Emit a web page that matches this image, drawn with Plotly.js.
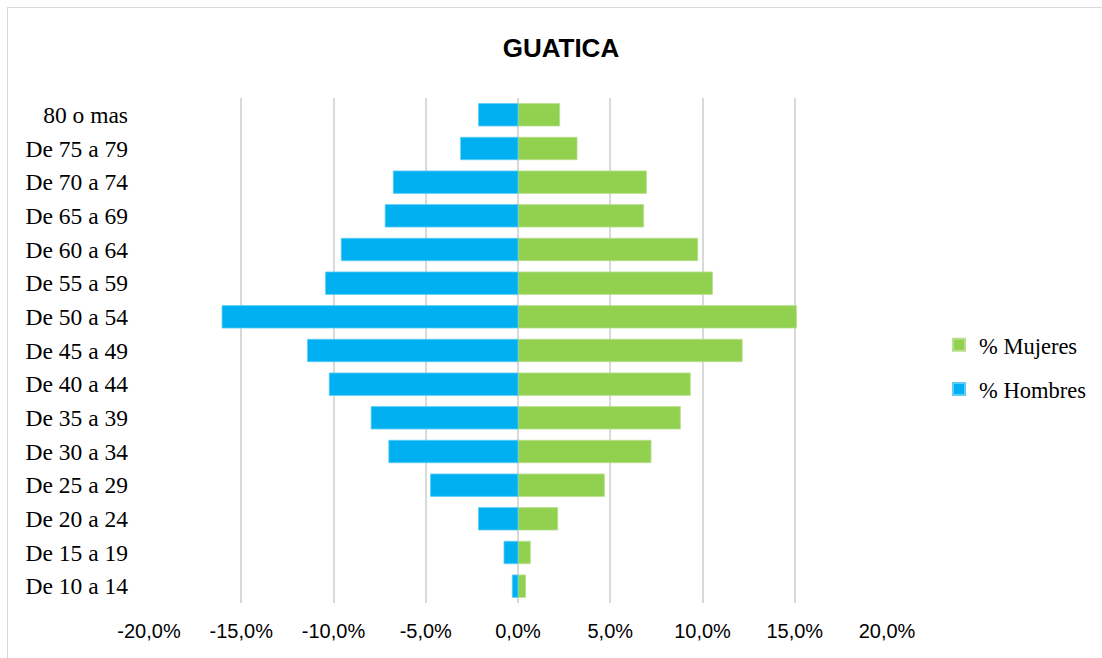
<!DOCTYPE html>
<html>
<head>
<meta charset="utf-8">
<script src="https://cdn.plot.ly/plotly-3.0.1.min.js"></script>
<style>
html,body{margin:0;padding:0;background:#fff;overflow:hidden;}
#wrap{position:relative;width:1102px;height:658px;}
#chart{position:absolute;left:0;top:0;width:1102px;height:658px;}
#frame{position:absolute;left:7px;top:7px;width:1200px;height:700px;border:1px solid #d9d9d9;pointer-events:none;}
</style>
</head>
<body>
<div id="wrap"><div id="chart"></div><div id="frame"></div></div>
<script>
var categories = ["De 10 a 14","De 15 a 19","De 20 a 24","De 25 a 29","De 30 a 34","De 35 a 39","De 40 a 44","De 45 a 49","De 50 a 54","De 55 a 59","De 60 a 64","De 65 a 69","De 70 a 74","De 75 a 79","80 o mas"];
var hombres = [-0.31,-0.76,-2.14,-4.74,-7.0,-7.96,-10.23,-11.41,-16.04,-10.43,-9.58,-7.2,-6.76,-3.11,-2.14];
var mujeres = [0.41,0.67,2.15,4.68,7.21,8.80,9.34,12.15,15.09,10.54,9.74,6.81,6.96,3.20,2.26];
var tickVals = [-20,-15,-10,-5,0,5,10,15,20];
var tickLabels = ["-20,0%","-15,0%","-10,0%","-5,0%","0,0%","5,0%","10,0%","15,0%","20,0%"];

var traces = [
  {type:'bar', orientation:'h', name:'% Mujeres', legendgroup:'m', y:categories, x:mujeres,
   marker:{color:'#92D050', line:{color:'#b8e08c', width:0.8}}, hoverinfo:'x+y'},
  {type:'bar', orientation:'h', name:'% Hombres', legendgroup:'h', y:categories, x:hombres,
   marker:{color:'#00B0F0', line:{color:'#5ccdf5', width:0.8}}, hoverinfo:'x+y'}
];

var layout = {
  width:1102, height:658,
  margin:{l:149, r:215, t:98, b:55, autoexpand:false},
  paper_bgcolor:'#ffffff', plot_bgcolor:'#ffffff',
  barmode:'overlay', bargap:0.334,
  title:{text:'<b>GUATICA</b>', x:0.509, xref:'container', xanchor:'center', y:0.927, yref:'container', yanchor:'middle',
         font:{family:'Liberation Sans, Arial, sans-serif', size:26, color:'#000'}},
  xaxis:{range:[-20,20], tickvals:tickVals, ticktext:tickLabels, showgrid:true, gridcolor:'#d9d9d9', gridwidth:2,
         zeroline:false, showline:false, ticks:'', ticklabelstandoff:14, fixedrange:true,
         tickfont:{family:'Liberation Sans, Arial, sans-serif', size:20, color:'#000'}},
  yaxis:{type:'category', categoryorder:'array', categoryarray:categories, showgrid:false, zeroline:false, showline:false,
         ticks:'', ticklabelstandoff:20, fixedrange:true,
         tickfont:{family:'Liberation Serif, Times New Roman, serif', size:23.5, color:'#000'}},
  showlegend:true,
  legend:{x:1.0705, xanchor:'left', y:0.467, yanchor:'middle', traceorder:'grouped', itemsizing:'constant',
          font:{family:'Liberation Serif, Times New Roman, serif', size:22.5, color:'#000'}, tracegroupgap:12, itemwidth:30},
  hovermode:'closest'
};
Plotly.newPlot('chart', traces, layout, {displayModeBar:false});
</script>
</body>
</html>
